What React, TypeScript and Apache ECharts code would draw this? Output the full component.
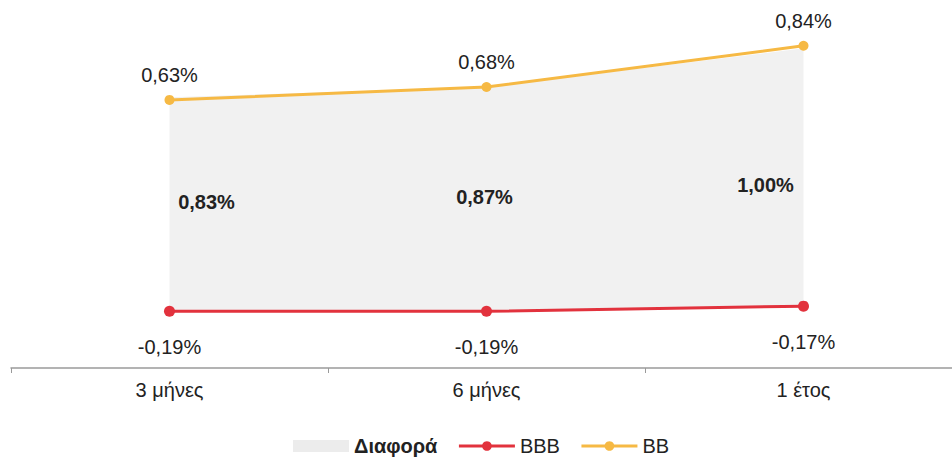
import React, { useEffect, useRef } from "react";
import * as echarts from "echarts";

const categories = ["3 μήνες", "6 μήνες", "1 έτος"];
const bbbValues = [-0.19, -0.19, -0.17];
const bbValues = [0.63, 0.68, 0.84];
const diffValues = [0.83, 0.87, 1.0];

const diffLabelOffsets = [
  [37, 105],
  [-2, 110],
  [-38, 137],
];

const FONT = "'Liberation Sans', Arial, sans-serif";
const RED = "#e2323d";
const YELLOW = "#f6b944";
const AREA = "#f1f1f1";

const fmt = (v: number) => v.toFixed(2).replace(".", ",") + "%";

export default function App() {
  const ref = useRef<HTMLDivElement>(null);
  useEffect(() => {
    if (!ref.current) return;
    const chart = echarts.init(ref.current, undefined, { renderer: "svg" });
    chart.setOption({
      animation: false,
      backgroundColor: "#ffffff",
      grid: { left: 11, right: 0, top: 20, bottom: 95, containLabel: false },
      xAxis: {
        type: "category",
        data: categories,
        boundaryGap: true,
        axisLine: { onZero: false, lineStyle: { color: "#9a9a9a", width: 1.5 } },
        axisTick: { show: true, length: 5, lineStyle: { color: "#9a9a9a" } },
        axisLabel: {
          color: "#222",
          fontSize: 20,
          fontFamily: FONT,
          margin: 12,
        },
      },
      yAxis: {
        type: "value",
        min: -0.41,
        max: 0.94,
        show: false,
        splitLine: { show: false },
      },
      legend: {
        top: 434,
        left: 291,
        itemWidth: 56,
        itemHeight: 12,
        itemGap: 20,
        padding: 2,
        textStyle: { color: "#222", fontSize: 20, fontFamily: FONT },
        data: [
          {
            name: "Διαφορά",
            icon: "rect",
            itemStyle: { color: "#ececec" },
            textStyle: { fontWeight: "bold" },
          },
          { name: "BBB", lineStyle: { width: 3 } },
          { name: "BB", lineStyle: { width: 3 } },
        ],
      },
      series: [
        {
          name: "BBB",
          type: "line",
          stack: "gap",
          stackStrategy: "all",
          data: bbbValues,
          color: RED,
          symbol: "circle",
          symbolSize: 11,
          lineStyle: { color: RED, width: 3 },
          itemStyle: { color: RED },
          label: {
            show: true,
            position: "bottom",
            distance: 20,
            formatter: (p: any) => fmt(p.value),
            color: "#222",
            fontSize: 20,
            fontFamily: FONT,
          },
          z: 4,
        },
        {
          name: "Διαφορά",
          type: "line",
          stack: "gap",
          stackStrategy: "all",
          data: diffValues.map((v, i) => ({
            value: v,
            label: { offset: diffLabelOffsets[i] },
          })),
          color: AREA,
          symbol: "circle",
          symbolSize: 1,
          itemStyle: { color: "rgba(0,0,0,0)" },
          lineStyle: { width: 0, color: AREA },
          areaStyle: { color: AREA, opacity: 1 },
          label: {
            show: true,
            position: "inside",
            formatter: (p: any) => fmt(p.value),
            color: "#222",
            fontSize: 20,
            fontWeight: "bold",
            fontFamily: FONT,
          },
          z: 2,
        },
        {
          name: "BB",
          type: "line",
          data: bbValues,
          color: YELLOW,
          symbol: "circle",
          symbolSize: 10,
          lineStyle: { color: YELLOW, width: 3 },
          itemStyle: { color: YELLOW },
          label: {
            show: true,
            position: "top",
            distance: 10,
            formatter: (p: any) => fmt(p.value),
            color: "#222",
            fontSize: 20,
            fontFamily: FONT,
          },
          z: 5,
        },
      ],
    });
    return () => chart.dispose();
  }, []);
  return (
    <div style={{ position: "fixed", left: 0, top: 0, width: 952, height: 463, overflow: "hidden" }}>
      <div ref={ref} style={{ width: 962, height: 463 }} />
    </div>
  );
}
